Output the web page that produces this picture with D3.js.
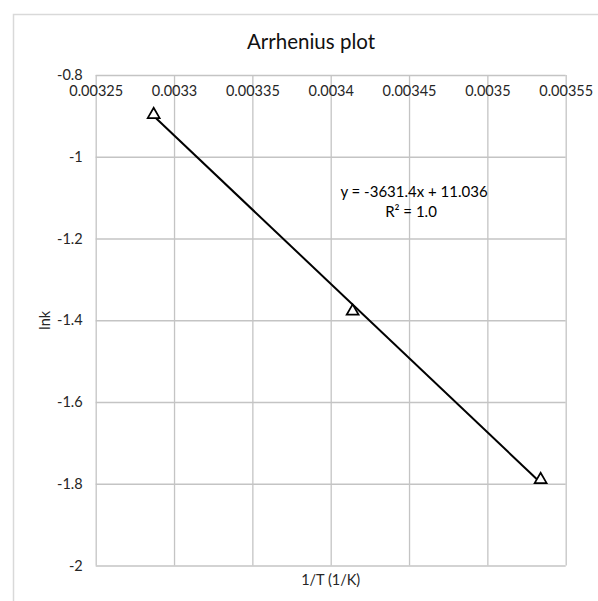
<!DOCTYPE html>
<html>
<head>
<meta charset="utf-8">
<script src="https://cdn.jsdelivr.net/npm/d3@7/dist/d3.min.js"></script>
<style>
  html, body { margin: 0; padding: 0; background: #ffffff; }
  svg { display: block; }
  text { font-family: Lato, "Open Sans", sans-serif; fill: #262626; }
</style>
</head>
<body>
<svg id="chart" width="598" height="601"></svg>
<script>
// Arrhenius data: inverse temperature (1/K) against ln k
const invT = [0.003287, 0.003414, 0.003534];
const lnk = [-0.897, -1.378, -1.790];

// Linear trendline y = slope * x + intercept
const slope = -3631.4;
const intercept = 11.036;
const equationLabel = "y = -3631.4x + 11.036";
const r2Label = "R² = 1.0";

// Axis ticks and their printed labels
const xTicks = [0.00325, 0.0033, 0.00335, 0.0034, 0.00345, 0.0035, 0.00355];
const xTickLabels = ["0.00325", "0.0033", "0.00335", "0.0034", "0.00345", "0.0035", "0.00355"];
const yTicks = [-2, -1.8, -1.6, -1.4, -1.2, -1, -0.8];
const yTickLabels = ["-2", "-1.8", "-1.6", "-1.4", "-1.2", "-1", "-0.8"];

const title = "Arrhenius plot";
const xTitle = "1/T (1/K)";
const yTitle = "lnk";

const svg = d3.select("#chart");
const plot = { left: 95.7, right: 565.7, top: 75, bottom: 565.5 };

const x = d3.scaleLinear().domain([0.00325, 0.00355]).range([plot.left, plot.right]);
const y = d3.scaleLinear().domain([-2, -0.8]).range([plot.bottom, plot.top]);

// Chart area frame (extends past the right and bottom edges)
svg.append("rect")
  .attr("x", 13.5).attr("y", 14.5)
  .attr("width", 640).attr("height", 640)
  .attr("fill", "none")
  .attr("stroke", "#d9d9d9")
  .attr("stroke-width", 1.5);

// Title
svg.append("text")
  .attr("x", 311).attr("y", 48.5)
  .attr("text-anchor", "middle")
  .attr("font-size", 20.5)
  .style("fill", "#111")
  .text(title);

// Vertical gridlines
const xGrid = svg.append("g")
  .attr("transform", `translate(0,${plot.bottom})`)
  .call(d3.axisBottom(x).tickValues(xTicks).tickSize(-(plot.bottom - plot.top)).tickFormat(""));
// Horizontal gridlines
const yGrid = svg.append("g")
  .attr("transform", `translate(${plot.left},0)`)
  .call(d3.axisLeft(y).tickValues(yTicks).tickSize(-(plot.right - plot.left)).tickFormat(""));
[xGrid, yGrid].forEach(g => {
  g.select(".domain").remove();
  g.selectAll(".tick line").attr("stroke", "#c4c4c4").attr("stroke-width", 1.3);
});

// Horizontal axis labels, placed under the top edge of the plot
const xAxis = svg.append("g")
  .attr("transform", `translate(0,${plot.top})`)
  .call(d3.axisBottom(x).tickValues(xTicks).tickSize(0).tickPadding(11)
    .tickFormat((d, i) => xTickLabels[i]));
xAxis.select(".domain").remove();
xAxis.selectAll("text")
  .attr("font-family", null).attr("font-size", null)
  .style("font-size", "14.5px").style("fill", "#262626");

// Vertical axis labels
const yAxis = svg.append("g")
  .attr("transform", `translate(${plot.left},0)`)
  .call(d3.axisLeft(y).tickValues(yTicks).tickSize(0).tickPadding(13)
    .tickFormat((d, i) => yTickLabels[i]));
yAxis.select(".domain").remove();
yAxis.selectAll("text")
  .attr("font-family", null).attr("font-size", null)
  .style("font-size", "14.5px").style("fill", "#262626");

// Axis titles
svg.append("text")
  .attr("x", (plot.left + plot.right) / 2).attr("y", 585)
  .attr("text-anchor", "middle")
  .attr("font-size", 14.5)
  .text(xTitle);
svg.append("text")
  .attr("transform", `translate(50,${(plot.top + plot.bottom) / 2}) rotate(-90)`)
  .attr("text-anchor", "middle")
  .attr("font-size", 14.5)
  .text(yTitle);

// Trendline across the data range
const xExtent = d3.extent(invT);
const trend = xExtent.map(v => [v, slope * v + intercept]);
svg.append("path")
  .datum(trend)
  .attr("d", d3.line().x(d => x(d[0])).y(d => y(d[1])))
  .attr("fill", "none")
  .attr("stroke", "#000")
  .attr("stroke-width", 2);

// Data markers: hollow triangles
const tri = d3.symbol().type(d3.symbolTriangle).size(62);
svg.append("g").selectAll("path")
  .data(invT.map((v, i) => [v, lnk[i]]))
  .join("path")
  .attr("transform", d => `translate(${x(d[0])},${y(d[1])})`)
  .attr("d", tri)
  .attr("fill", "#fff")
  .attr("stroke", "#000")
  .attr("stroke-width", 1.7);

// Trendline equation
const eq = svg.append("text")
  .attr("x", 414).attr("y", 197)
  .attr("text-anchor", "middle")
  .attr("font-size", 15)
  .style("fill", "#000");
eq.append("tspan").attr("x", 414).attr("y", 197).text(equationLabel);
eq.append("tspan").attr("x", 411).attr("y", 217).text(r2Label);
</script>
</body>
</html>
